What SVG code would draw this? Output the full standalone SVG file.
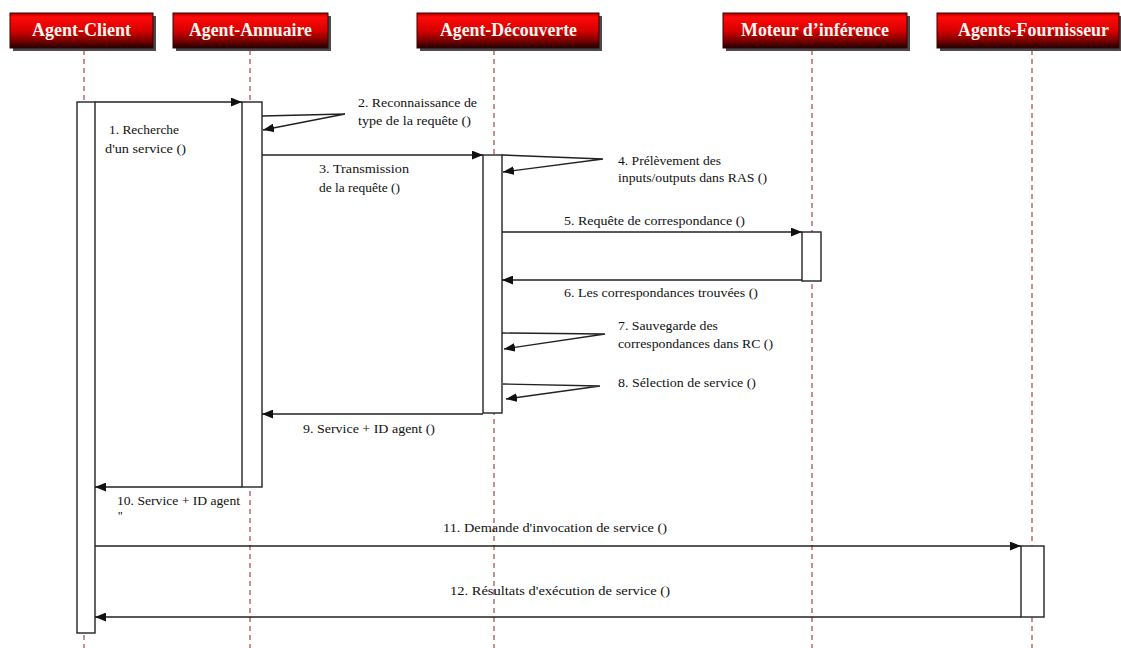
<svg xmlns="http://www.w3.org/2000/svg" width="1121" height="648" viewBox="0 0 1121 648">
  <style>
    .hdr { stroke: #3a0000; stroke-width: 1; fill: url(#hdrGrad); }
    .shadow { fill: #4a4a4a; }
    .hdrText { font-family: 'Liberation Serif', 'DejaVu Serif', serif; font-weight: bold; font-size: 18px; fill: #fff6f0; }
    .life { stroke: #a04848; stroke-width: 1.2; stroke-dasharray: 5 4; fill: none; }
    .act { fill: #ffffff; stroke: #222222; stroke-width: 1.4; }
    .msg { stroke: #222222; stroke-width: 1.4; fill: none; marker-end: url(#arrow); }
    .lbl { font-family: 'Liberation Serif', 'DejaVu Serif', serif; font-size: 12.5px; fill: #111111; }
  </style>
  <defs>
    <linearGradient id="hdrGrad" x1="0" y1="0" x2="0" y2="1">
      <stop offset="0" stop-color="#b00000"/>
      <stop offset="0.12" stop-color="#ff0a0a"/>
      <stop offset="0.5" stop-color="#d80000"/>
      <stop offset="0.8" stop-color="#780000"/>
      <stop offset="1" stop-color="#1c0000"/>
    </linearGradient>
    <marker id="arrow" viewBox="0 0 10 8" refX="10" refY="4" markerWidth="11" markerHeight="9" markerUnits="userSpaceOnUse" orient="auto">
      <path d="M0,0 L10,4 L0,8 z" fill="#111111"/>
    </marker>
  </defs>

  <rect width="1121" height="648" fill="#ffffff"/>

  <!-- lifelines -->
  <g id="lifelines">
    <line class="life" x1="84" y1="50" x2="84" y2="648"/>
    <line class="life" x1="250" y1="50" x2="250" y2="648"/>
    <line class="life" x1="494" y1="50" x2="494" y2="648"/>
    <line class="life" x1="812" y1="50" x2="812" y2="648"/>
    <line class="life" x1="1032" y1="50" x2="1032" y2="648"/>
  </g>

  <!-- participants -->
  <g id="agent-client">
    <rect class="shadow" x="13" y="16" width="143" height="35"/>
    <rect class="hdr" x="10" y="13" width="143" height="35"/>
    <text class="hdrText" x="32" y="36" textLength="99" lengthAdjust="spacingAndGlyphs">Agent-Client</text>
    <rect class="act" x="77" y="102" width="18" height="531"/>
  </g>
  <g id="agent-annuaire">
    <rect class="shadow" x="176" y="16" width="155" height="35"/>
    <rect class="hdr" x="173" y="13" width="155" height="35"/>
    <text class="hdrText" x="189" y="36" textLength="123" lengthAdjust="spacingAndGlyphs">Agent-Annuaire</text>
    <rect class="act" x="242" y="102" width="20" height="385"/>
  </g>
  <g id="agent-decouverte">
    <rect class="shadow" x="420" y="16" width="182" height="35"/>
    <rect class="hdr" x="417" y="13" width="182" height="35"/>
    <text class="hdrText" x="440" y="36" textLength="137" lengthAdjust="spacingAndGlyphs">Agent-Découverte</text>
    <rect class="act" x="483" y="155" width="19" height="258"/>
  </g>
  <g id="moteur-inference">
    <rect class="shadow" x="726" y="16" width="184" height="35"/>
    <rect class="hdr" x="723" y="13" width="184" height="35"/>
    <text class="hdrText" x="741" y="36" textLength="148" lengthAdjust="spacingAndGlyphs">Moteur d’inférence</text>
    <rect class="act" x="802" y="232" width="19" height="49"/>
  </g>
  <g id="agents-fournisseur">
    <rect class="shadow" x="940" y="16" width="181" height="35"/>
    <rect class="hdr" x="937" y="13" width="182" height="35"/>
    <text class="hdrText" x="958" y="36" textLength="151" lengthAdjust="spacingAndGlyphs">Agents-Fournisseur</text>
    <rect class="act" x="1021" y="546" width="23" height="71"/>
  </g>

  <!-- messages -->
  <g id="connectors">
    <line class="msg" x1="95" y1="102" x2="242" y2="102"/>
    <polyline class="msg" points="262,116 345,114 263,130"/>
    <line class="msg" x1="262" y1="155" x2="483" y2="155"/>
    <polyline class="msg" points="502,155 603,159 503,172"/>
    <line class="msg" x1="502" y1="232" x2="802" y2="232"/>
    <line class="msg" x1="802" y1="280" x2="502" y2="280"/>
    <polyline class="msg" points="502,333 605,334 504,349"/>
    <polyline class="msg" points="503,384 600,386 506,399"/>
    <line class="msg" x1="483" y1="414" x2="262" y2="414"/>
    <line class="msg" x1="242" y1="487" x2="95" y2="487"/>
    <line class="msg" x1="95" y1="546" x2="1021" y2="546"/>
    <line class="msg" x1="1021" y1="617" x2="95" y2="617"/>
  </g>

  <!-- message labels -->
  <g id="labels">
    <text class="lbl" x="109" y="134" textLength="70" lengthAdjust="spacingAndGlyphs">1. Recherche</text>
    <text class="lbl" x="105" y="153" textLength="81" lengthAdjust="spacingAndGlyphs">d'un service ()</text>
    <text class="lbl" x="358" y="107" textLength="119" lengthAdjust="spacingAndGlyphs">2. Reconnaissance de</text>
    <text class="lbl" x="358" y="125" textLength="113" lengthAdjust="spacingAndGlyphs">type de la requête ()</text>
    <text class="lbl" x="319" y="173" textLength="90" lengthAdjust="spacingAndGlyphs">3. Transmission</text>
    <text class="lbl" x="319" y="192" textLength="81" lengthAdjust="spacingAndGlyphs">de la requête ()</text>
    <text class="lbl" x="618" y="165" textLength="103" lengthAdjust="spacingAndGlyphs">4. Prélèvement des</text>
    <text class="lbl" x="618" y="182" textLength="149" lengthAdjust="spacingAndGlyphs">inputs/outputs dans RAS ()</text>
    <text class="lbl" x="564" y="225" textLength="181" lengthAdjust="spacingAndGlyphs">5. Requête de correspondance ()</text>
    <text class="lbl" x="564" y="297" textLength="194" lengthAdjust="spacingAndGlyphs">6. Les correspondances trouvées ()</text>
    <text class="lbl" x="618" y="330" textLength="100" lengthAdjust="spacingAndGlyphs">7. Sauvegarde des</text>
    <text class="lbl" x="618" y="348" textLength="155" lengthAdjust="spacingAndGlyphs">correspondances dans RC ()</text>
    <text class="lbl" x="618" y="387" textLength="138" lengthAdjust="spacingAndGlyphs">8. Sélection de service ()</text>
    <text class="lbl" x="303" y="433" textLength="132" lengthAdjust="spacingAndGlyphs">9. Service + ID agent ()</text>
    <text class="lbl" x="117" y="505" textLength="123" lengthAdjust="spacingAndGlyphs">10. Service + ID agent</text>
    <text class="lbl" x="118" y="520">''</text>
    <text class="lbl" x="443" y="532" textLength="224" lengthAdjust="spacingAndGlyphs">11. Demande d'invocation de service ()</text>
    <text class="lbl" x="450" y="595" textLength="220" lengthAdjust="spacingAndGlyphs">12. Résultats d'exécution de service ()</text>
  </g>
</svg>
